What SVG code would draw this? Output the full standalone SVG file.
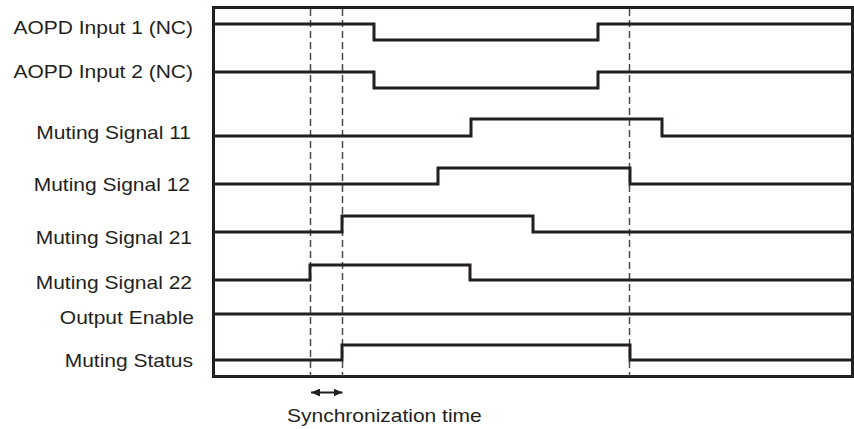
<svg xmlns="http://www.w3.org/2000/svg" width="854" height="429" viewBox="0 0 854 429">
<style>
.lbl{font-family:"Liberation Sans",Arial,sans-serif;font-size:17.5px;fill:#231f20;text-anchor:end}
.sig{fill:none;stroke:#231f20;stroke-width:3;stroke-linejoin:miter;stroke-linecap:butt}
.frame{fill:none;stroke:#231f20;stroke-width:3}
.dash{fill:none;stroke:#4a4a4a;stroke-width:1.5;stroke-dasharray:7 4}
.arr{stroke:#231f20;stroke-width:2;fill:none}
</style>
<defs>
<marker id="ah" markerWidth="9" markerHeight="8" refX="9" refY="4" orient="auto-start-reverse" markerUnits="userSpaceOnUse">
<path d="M0,0 L9,4 L0,8 Z" fill="#231f20"/>
</marker>
</defs>
<rect class="frame" x="213.5" y="7.5" width="639" height="369"/>
<g id="connectors">
<path class="dash" d="M310.5,9 V376"/>
<path class="dash" d="M342.5,9 V376"/>
<path class="dash" d="M629.5,9 V376"/>
<line class="arr" x1="311" y1="392.5" x2="342.5" y2="392.5" marker-start="url(#ah)" marker-end="url(#ah)"/>
</g>
<g id="aopd1">
<path class="sig" d="M213,24 H374 V40 H598 V24 H852"/>
<text class="lbl" transform="translate(193,34) scale(1.2,1)">AOPD Input 1 (NC)</text>
</g>
<g id="aopd2">
<path class="sig" d="M213,72 H374 V88 H598 V72 H852"/>
<text class="lbl" transform="translate(193,77.5) scale(1.2,1)">AOPD Input 2 (NC)</text>
</g>
<g id="ms11">
<path class="sig" d="M213,136 H471 V119 H662 V136 H852"/>
<text class="lbl" transform="translate(191,138.5) scale(1.2,1)">Muting Signal 11</text>
</g>
<g id="ms12">
<path class="sig" d="M213,184 H438 V168 H630 V184 H852"/>
<text class="lbl" transform="translate(190,191) scale(1.2,1)">Muting Signal 12</text>
</g>
<g id="ms21">
<path class="sig" d="M213,232 H342 V216 H533 V232 H852"/>
<text class="lbl" transform="translate(192,243.5) scale(1.2,1)">Muting Signal 21</text>
</g>
<g id="ms22">
<path class="sig" d="M213,280 H310 V265 H470 V280 H852"/>
<text class="lbl" transform="translate(192,289) scale(1.2,1)">Muting Signal 22</text>
</g>
<g id="oe">
<path class="sig" d="M213,314 H852"/>
<text class="lbl" transform="translate(194,324) scale(1.2,1)">Output Enable</text>
</g>
<g id="mstat">
<path class="sig" d="M213,360 H342 V345 H630 V360 H852"/>
<text class="lbl" transform="translate(193,367) scale(1.2,1)">Muting Status</text>
</g>
<g id="sync">
<text class="lbl" style="text-anchor:start" transform="translate(287,422) scale(1.2,1)">Synchronization time</text>
</g>
</svg>
